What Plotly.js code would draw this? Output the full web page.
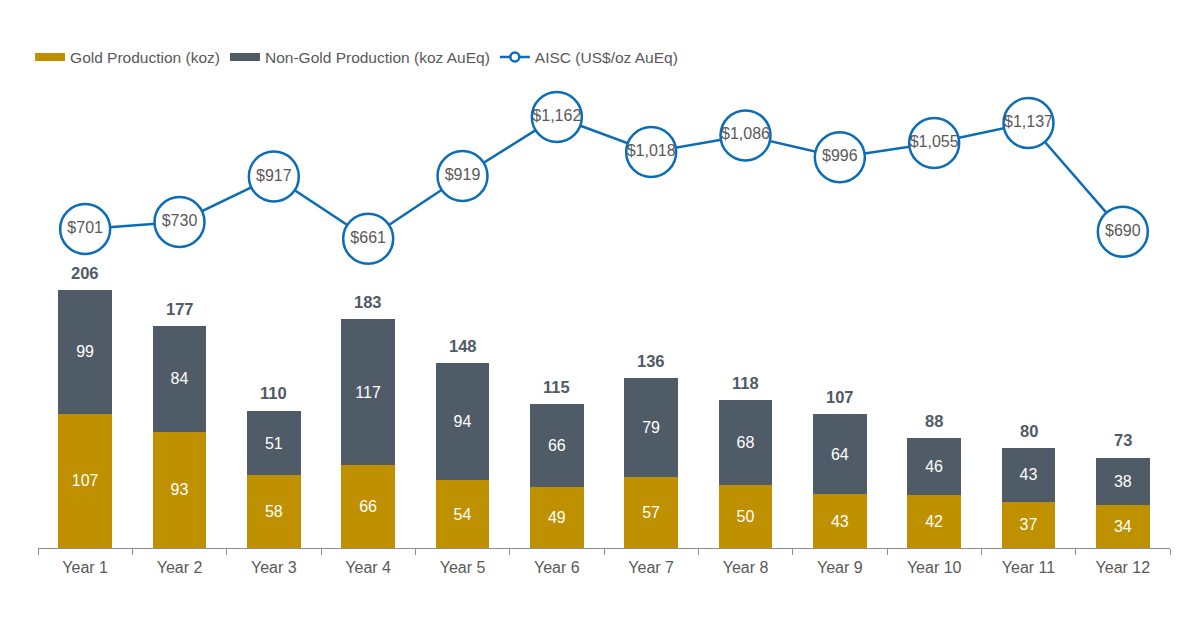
<!DOCTYPE html>
<html>
<head>
<meta charset="utf-8">
<script src="https://cdn.plot.ly/plotly-3.0.1.min.js"></script>
<style>
  html, body { margin: 0; padding: 0; background: #fff; }
  #chart { width: 1200px; height: 627px; }
</style>
</head>
<body>
<div id="chart"></div>
<script>
const years = ['Year 1', 'Year 2', 'Year 3', 'Year 4', 'Year 5', 'Year 6',
               'Year 7', 'Year 8', 'Year 9', 'Year 10', 'Year 11', 'Year 12'];
const goldProduction = [107, 93, 58, 66, 54, 49, 57, 50, 43, 42, 37, 34];
const nonGoldProduction = [99, 84, 51, 117, 94, 66, 79, 68, 64, 46, 43, 38];
const totalProduction = [206, 177, 110, 183, 148, 115, 136, 118, 107, 88, 80, 73];
const aisc = [701, 730, 917, 661, 919, 1162, 1018, 1086, 996, 1055, 1137, 690];

const FONT = 'Liberation Sans, Arial, sans-serif';
const GOLD = '#BF9000';
const SLATE = '#4F5B66';
const BLUE = '#0B6DB7';
const fmtMoney = v => '$' + v.toLocaleString('en-US');

const goldTrace = {
  x: years, y: goldProduction, type: 'bar', showlegend: false,
  marker: {color: GOLD},
  text: goldProduction.map(String), textposition: 'inside', insidetextanchor: 'middle',
  textfont: {color: '#ffffff', size: 16, family: FONT},
  hoverinfo: 'skip'
};

const nonGoldTrace = {
  x: years, y: nonGoldProduction, type: 'bar', showlegend: false,
  marker: {color: SLATE},
  text: nonGoldProduction.map(String), textposition: 'inside', insidetextanchor: 'middle',
  textfont: {color: '#ffffff', size: 16, family: FONT},
  hoverinfo: 'skip'
};

const aiscTrace = {
  x: years, y: aisc, type: 'scatter', mode: 'lines+markers+text', yaxis: 'y2',
  showlegend: false,
  line: {color: BLUE, width: 2.5},
  marker: {symbol: 'circle', size: 50, color: '#ffffff', line: {color: BLUE, width: 2.5}},
  text: aisc.map(fmtMoney), textposition: 'middle center',
  textfont: {color: '#595959', size: 16, family: FONT},
  hoverinfo: 'skip', cliponaxis: false
};

// legend-only entries, so the swatches look like the original
const legendGold = {x: [null], y: [null], type: 'scatter', mode: 'lines',
  name: 'Gold Production (koz)', line: {color: GOLD, width: 8}};
const legendSlate = {x: [null], y: [null], type: 'scatter', mode: 'lines',
  name: 'Non-Gold Production (koz AuEq)', line: {color: SLATE, width: 8}};
const legendAisc = {x: [null], y: [null], type: 'scatter', mode: 'lines+markers',
  name: 'AISC (US$/oz AuEq)', line: {color: BLUE, width: 2.5},
  marker: {symbol: 'circle', size: 9, color: '#ffffff', line: {color: BLUE, width: 2.5}}};

const totalLabels = years.map((yr, i) => ({
  x: yr, y: totalProduction[i], xref: 'x', yref: 'y',
  text: '<b>' + totalProduction[i] + '</b>', showarrow: false,
  yanchor: 'bottom', yshift: 6,
  font: {color: SLATE, size: 16.5, family: FONT}
}));

const layout = {
  width: 1200, height: 627,
  margin: {l: 38, r: 30, t: 100, b: 79},
  paper_bgcolor: '#ffffff', plot_bgcolor: '#ffffff',
  barmode: 'stack', bargap: 0.43,
  font: {family: FONT, color: '#595959'},
  showlegend: true,
  legend: {
    orientation: 'h', x: -0.007, xanchor: 'left', y: 1.095, yanchor: 'middle',
    font: {size: 15.5, color: '#595959'}, traceorder: 'normal',
    itemwidth: 30, tracegroupgap: 0
  },
  xaxis: {
    type: 'category', range: [-0.5, 11.5], showline: true, linecolor: '#8C8C8C', linewidth: 1,
    ticks: 'outside', tickson: 'boundaries', ticklen: 6, tickcolor: '#8C8C8C',
    ticklabelstandoff: 5,
    tickfont: {size: 16, color: '#595959'}, showgrid: false, zeroline: false
  },
  yaxis: {range: [0, 357.7], visible: false, showgrid: false, zeroline: false},
  yaxis2: {range: [-611.8, 1231.8], overlaying: 'y', side: 'right', visible: false,
           showgrid: false, zeroline: false},
  annotations: totalLabels
};

Plotly.newPlot('chart', [goldTrace, nonGoldTrace, aiscTrace, legendGold, legendSlate, legendAisc],
               layout, {displayModeBar: false, staticPlot: true});
</script>
</body>
</html>
